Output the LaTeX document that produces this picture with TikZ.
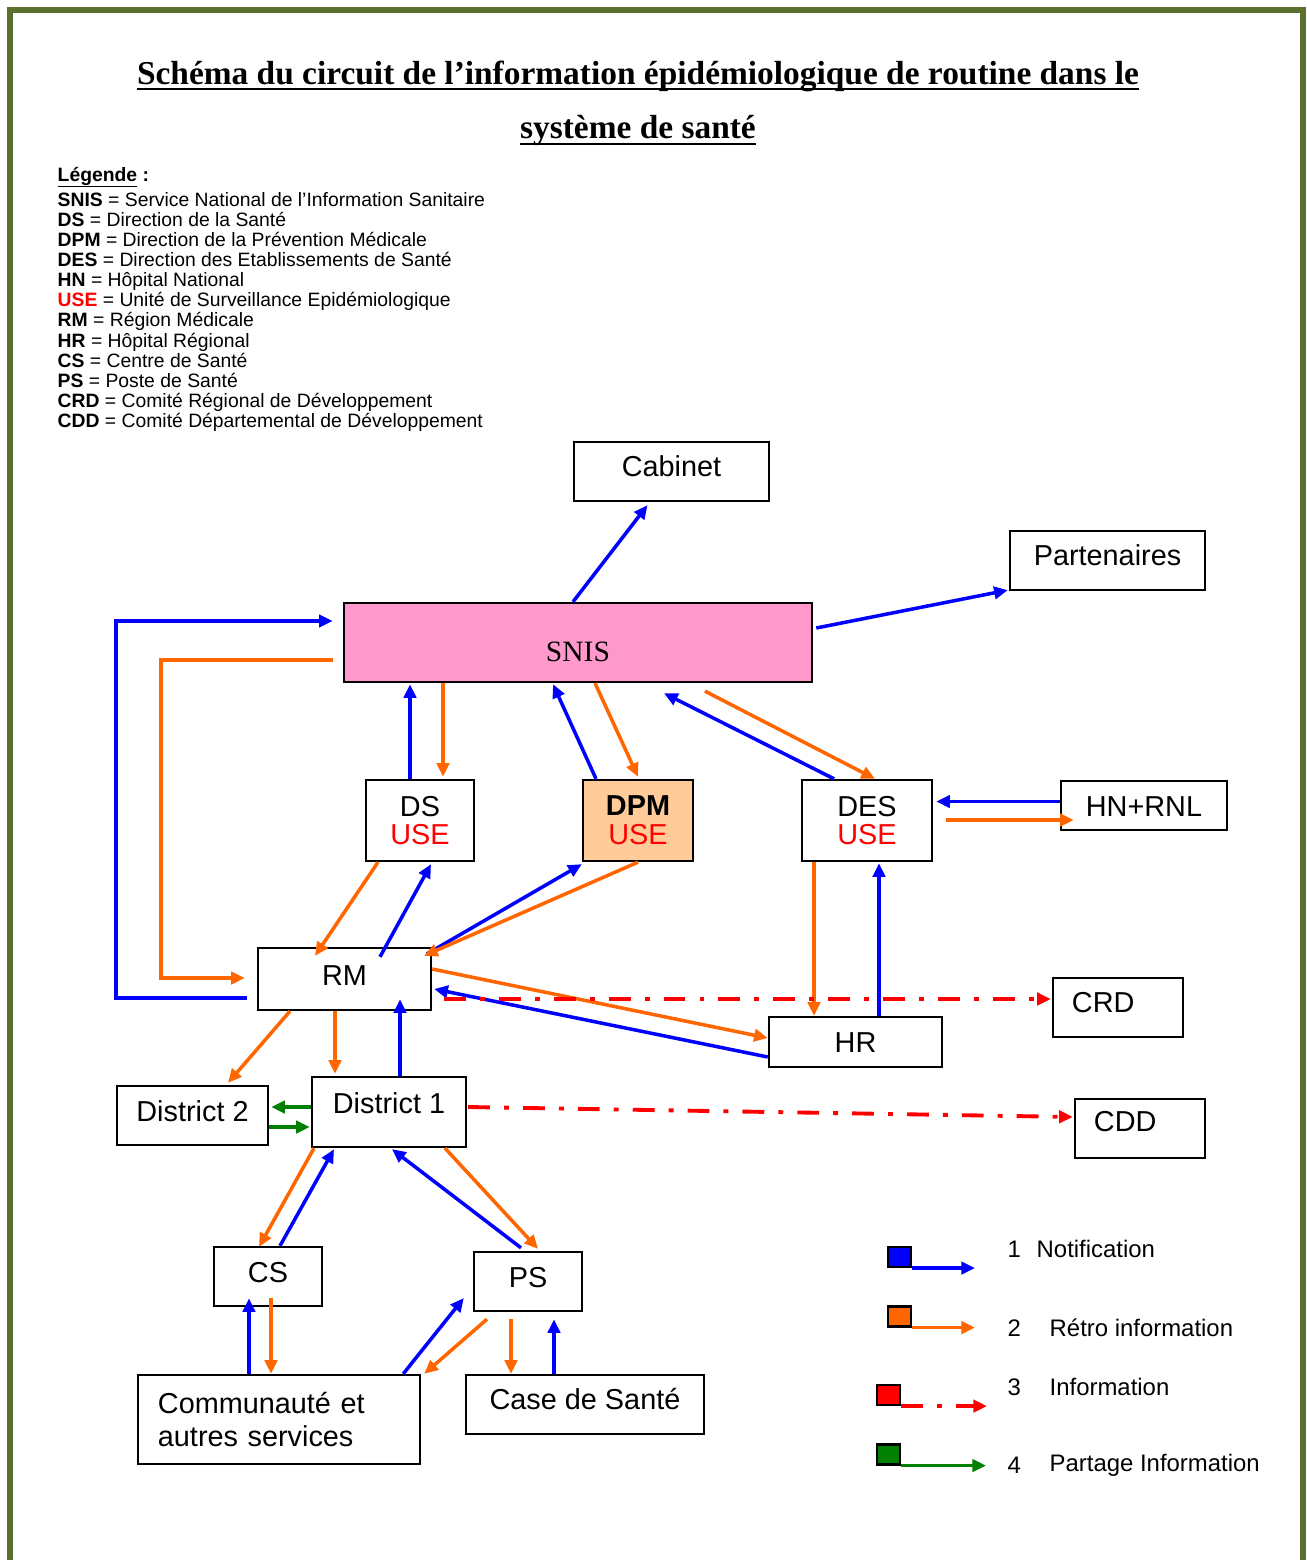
\documentclass[tikz,border=0pt]{standalone}
\usepackage{fontspec}
\setmainfont{Liberation Sans}
\newfontfamily\serifface{Liberation Serif}
\usetikzlibrary{arrows.meta,calc}
\definecolor{circBlue}{HTML}{0000FF}
\definecolor{circOrange}{HTML}{FF6600}
\definecolor{circRed}{HTML}{FF0000}
\definecolor{circGreen}{HTML}{008000}
\definecolor{circPink}{HTML}{FF99CC}
\definecolor{circPeach}{HTML}{FFCC99}
\definecolor{circOlive}{HTML}{5B6F2E}
\newcommand{\tightline}[1]{\underline{\smash{#1}}}

\begin{document}
\begin{tikzpicture}[x=0.01cm,y=-0.01cm,
    box/.style={draw=black,line width=0.65pt,inner sep=0pt,
                font=\fontsize{8.2}{9.4}\selectfont},
    unit/.style={box,text height=0.21cm,text depth=#1},
    unit/.default=0.12cm,
    dual/.style={box,align=center,font=\fontsize{8.2}{8.2}\selectfont},
    flow/.style={line width=1pt,-{Triangle[length=3.9pt,width=3.5pt]}},
    notif/.style={flow,draw=circBlue},
    retro/.style={flow,draw=circOrange},
    inform/.style={flow,draw=circRed,line width=1.1pt,
                   dash pattern=on 6.2pt off 4pt on 1.4pt off 4pt},
    share/.style={flow,draw=circGreen},
    keysq/.style={draw=black,line width=0.6pt,minimum width=0.23cm,
                  minimum height=0.2cm,inner sep=0pt},
    keytext/.style={anchor=west,inner sep=0pt,font=\fontsize{6.8}{8}\selectfont}]
  \useasboundingbox (0,0) rectangle (1307,1560);
  \draw[circOlive,line width=1.7pt] (10,1560) -- (10,10) -- (1303,10) -- (1303,1560);

  % title and glossary
  \node[align=center,inner sep=0pt,
        font=\serifface\bfseries\fontsize{9.5}{15.6}\selectfont] (title) at (638,115)
    {\tightline{Schéma du circuit de l’information épidémiologique de routine dans le}\\
     \tightline{système de santé}};
  \node[anchor=north west,align=left,inner sep=0pt,
        font=\fontsize{5.5}{5.73}\selectfont] (gloss) at (57,171) {
    \textbf{\tightline{Légende} :}\\
    \textbf{SNIS} = Service National de l'Information Sanitaire\\
    \textbf{DS} = Direction de la Santé\\
    \textbf{DPM} = Direction de la Prévention Médicale\\
    \textbf{DES} = Direction des Etablissements de Santé\\
    \textbf{HN} = Hôpital National\\
    \textbf{\textcolor{circRed}{USE}} = Unité de Surveillance Epidémiologique\\
    \textbf{RM} = Région Médicale\\
    \textbf{HR} = Hôpital Régional\\
    \textbf{CS} = Centre de Santé\\
    \textbf{PS} = Poste de Santé\\
    \textbf{CRD} = Comité Régional de Développement\\
    \textbf{CDD} = Comité Départemental de Développement};

  % national level
  \node[unit,minimum width=1.95cm,minimum height=0.59cm] (cab) at (671.5,471.5) {Cabinet};
  \node[unit,minimum width=1.95cm,minimum height=0.59cm] (part) at (1107.5,560.5) {Partenaires};
  \node[box,fill=circPink,minimum width=4.68cm,minimum height=0.79cm,
        font=\serifface\fontsize{8.4}{9}\selectfont,text height=0.37cm,text depth=0pt]
        (snis) at (578,642.5) {SNIS};
  \node[dual,minimum width=1.08cm,minimum height=0.81cm] (ds) at (420,820.5)
    {DS\\\textcolor{circRed}{USE}};
  \node[dual,fill=circPeach,minimum width=1.10cm,minimum height=0.81cm] (dpm) at (638,820.5)
    {\textbf{DPM}\\\textcolor{circRed}{USE}};
  \node[dual,minimum width=1.30cm,minimum height=0.81cm] (des) at (867,820.5)
    {DES\\\textcolor{circRed}{USE}};
  \node[unit=0pt,minimum width=1.66cm,minimum height=0.49cm] (hn) at (1144,805.5) {HN+RNL};

  % regional and district level
  \node[unit=0.08cm,minimum width=1.73cm,minimum height=0.62cm] (rm) at (344.5,979) {RM};
  \node[unit=0pt,minimum width=1.73cm,minimum height=0.50cm] (hr) at (855.5,1042) {HR};
  \node[unit,minimum width=1.30cm,minimum height=0.59cm,inner xsep=0.19cm,
        text width=0.92cm,align=left] (crd) at (1118,1007.5) {CRD};
  \node[unit=0.16cm,minimum width=1.30cm,minimum height=0.59cm,inner xsep=0.19cm,
        text width=0.92cm,align=left] (cdd) at (1140,1128.5) {CDD};
  \node[unit=0.10cm,minimum width=1.51cm,minimum height=0.59cm] (dtwo) at (192.5,1115.5) {District 2};
  \node[unit=0.18cm,minimum width=1.54cm,minimum height=0.70cm] (done) at (389,1112) {District 1};

  % local level
  \node[unit=0.10cm,minimum width=1.08cm,minimum height=0.59cm] (cs) at (268,1276.5) {CS};
  \node[unit=0.10cm,minimum width=1.08cm,minimum height=0.59cm] (ps) at (528,1281.5) {PS};
  \node[box,minimum width=2.82cm,minimum height=0.89cm,inner xsep=0.2cm,text width=2.42cm,
        align=left,font=\fontsize{8.2}{9.35}\selectfont] (com) at (279,1419.5)
    {Communauté et\\autres services};
  \node[unit,minimum width=2.38cm,minimum height=0.59cm] (case) at (585,1404.5) {Case de Santé};

  % SNIS links
  \draw[notif] ($(snis.north)+(-5,0)$) -- ($(cab.south)+(-24,3)$);
  \draw[notif] ($(snis.east)+(3,-14.5)$) -- ($(part.south west)+(-1,-1)$);
  \draw[notif] ($(rm.west)+(-10,19)$) -| (116,621) -- ($(snis.west)+(-10,-21.5)$);
  \draw[retro] ($(snis.west)+(-10,17.5)$) -| (161,978) -- ($(rm.west)+(-12,-1)$);
  \draw[notif] ($(ds.north)+(-10,0)$) -- ($(snis.south)+(-168,1)$);
  \draw[retro] ($(snis.south)+(-135,0)$) -- ($(ds.north)+(23,-2)$);
  \draw[notif] ($(dpm.north)+(-42,0)$) -- ($(snis.south)+(-25,1)$);
  \draw[retro] ($(snis.south)+(17,0)$) -- ($(dpm.north)+(0,-2)$);
  \draw[notif] ($(des.north)+(-33,0)$) -- ($(snis.south)+(86,10)$);
  \draw[retro] ($(snis.south)+(127,8)$) -- ($(des.north)+(8,0)$);
  \draw[notif] ($(hn.west)+(0,-4)$) -- ($(des.east)+(3,-19)$);
  \draw[retro] ($(des.east)+(13,-0.5)$) -- ($(hn.west)+(14,14.5)$);

  % regional links
  \draw[retro] ($(ds.south)+(-42,0)$) -- ($(rm.north)+(-29.5,9)$);
  \draw[notif] ($(rm.north)+(35.5,10)$) -- ($(ds.south)+(11,2)$);
  \draw[notif] ($(rm.north)+(82.5,7)$) -- ($(dpm.south west)+(0,2)$);
  \draw[retro] (dpm.south) -- ($(rm.north)+(79.5,9)$);
  \draw[retro] ($(des.south)+(-53,0)$) -- ($(hr.north)+(-41.5,0)$);
  \draw[notif] ($(hr.north)+(23.5,0)$) -- ($(des.south)+(12,1)$);
  \draw[retro] ($(rm.east)+(0,-10)$) -- ($(hr.west)+(0,-4)$);
  \draw[notif] ($(hr.west)+(0,15)$) -- ($(rm.east)+(2,10)$);
  \draw[inform] ($(rm.east)+(12,20)$) -- ($(crd.west)+(-1,-8.5)$);

  % district links
  \draw[retro] ($(rm.south)+(-54.5,0)$) -- ($(dtwo.north)+(35.5,-2)$);
  \draw[retro] ($(rm.south)+(-9.5,0)$) -- ($(done.north)+(-54,-2)$);
  \draw[notif] ($(done.north)+(11,0)$) -- ($(rm.south)+(55.5,-12)$);
  \draw[share] ($(done.west)+(0,-5)$) -- ($(dtwo.east)+(2,-8.5)$);
  \draw[share] ($(dtwo.east)+(0,11.5)$) -- ($(done.west)+(-1,15)$);
  \draw[inform] ($(done.east)+(1,-5)$) -- ($(cdd.west)+(-1,-11.5)$);

  % local links
  \draw[retro] ($(done.south)+(-75,0)$) -- ($(cs.north)+(-9,1)$);
  \draw[notif] ($(cs.north)+(12,0)$) -- ($(done.south)+(-55,1)$);
  \draw[notif] ($(ps.north)+(-7,-3)$) -- ($(done.south)+(3,1)$);
  \draw[retro] ($(done.south)+(56,0)$) -- ($(ps.north)+(10,-2)$);
  \draw[notif] ($(com.north)+(-30,0)$) -- ($(cs.south)+(-19,-9)$);
  \draw[retro] ($(cs.south)+(3,-9)$) -- ($(com.north)+(-8,0)$);
  \draw[notif] ($(com.north east)+(-18,0)$) -- ($(ps.west)+(-9,16.5)$);
  \draw[retro] ($(ps.south)+(-41,7)$) -- ($(com.north east)+(3,0)$);
  \draw[retro] ($(ps.south)+(-17,7)$) -- ($(case.north)+(-74,0)$);
  \draw[notif] ($(case.north)+(-31,0)$) -- ($(ps.south)+(26,7)$);

  % key
  \node[keysq,fill=circBlue] (kone) at (899.5,1257) {};
  \node[keysq,fill=circOrange] (ktwo) at (899.5,1316.5) {};
  \node[keysq,fill=circRed] (kthree) at (888.5,1395) {};
  \node[keysq,fill=circGreen] (kfour) at (888.5,1454.5) {};
  \coordinate (tone) at (975,1266);
  \coordinate (ttwo) at (975,1326);
  \coordinate (tthree) at (987,1405);
  \coordinate (tfour) at (986,1464);
  \draw[notif] (kone.south east) -- (kone.south east -| tone);
  \draw[retro] (ktwo.south east) -- (ktwo.south east -| ttwo);
  \draw[inform] (kthree.south east) -- (kthree.south east -| tthree);
  \draw[share] (kfour.south east) -- (kfour.south east -| tfour);
  \node[keytext] (none) at (1007,1249) {1};
  \node[keytext] (ntwo) at (1007,1328) {2};
  \node[keytext] (nthree) at (1007,1387) {3};
  \node[keytext] (nfour) at (1007,1465) {4};
  \node[keytext] (lone) at (1036,1249) {Notification};
  \node[keytext] (ltwo) at (1049,1328) {Rétro information};
  \node[keytext] (lthree) at (1049,1387) {Information};
  \node[keytext] (lfour) at (1049,1465) {Partage Information};
\end{tikzpicture}
\end{document}
